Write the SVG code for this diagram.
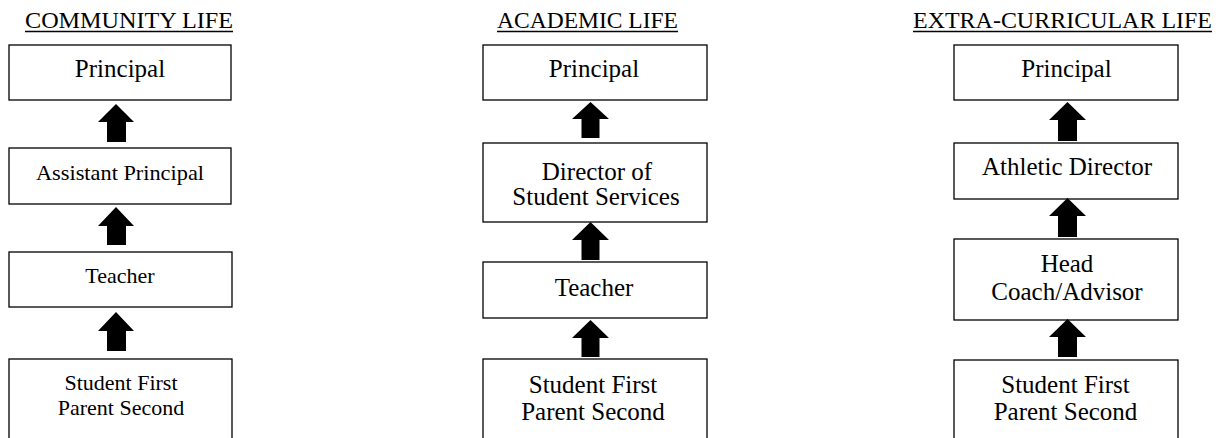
<svg xmlns="http://www.w3.org/2000/svg" width="1222" height="438" viewBox="0 0 1222 438">
<style>
  .box { fill: #ffffff; stroke: #000000; stroke-width: 1.3; }
  .t { font-family: "Liberation Serif", "Times New Roman", serif; font-size: 25px; fill: #000000; text-anchor: middle; }
  .s { font-size: 22px; }
  .title { font-family: "Liberation Serif", "Times New Roman", serif; font-size: 23px; fill: #000000; text-anchor: middle; }
  .ul { stroke: #000000; stroke-width: 1.4; }
  .arrow { fill: #000000; stroke: none; }
</style>
<rect width="1222" height="438" fill="#ffffff"/>

<g id="titles">
  <text class="title" x="129" y="28" textLength="208" lengthAdjust="spacingAndGlyphs">COMMUNITY LIFE</text>
  <line class="ul" x1="25" y1="31.5" x2="233" y2="31.5"/>
  <text class="title" x="587.5" y="28" textLength="181" lengthAdjust="spacingAndGlyphs">ACADEMIC LIFE</text>
  <line class="ul" x1="497" y1="31.5" x2="678" y2="31.5"/>
  <text class="title" x="1062.5" y="28" textLength="299" lengthAdjust="spacingAndGlyphs">EXTRA-CURRICULAR LIFE</text>
  <line class="ul" x1="913" y1="31.5" x2="1212" y2="31.5"/>
</g>

<!-- Column 1: Community Life -->
<g id="c1-principal">
  <rect class="box" x="9" y="45" width="222" height="55"/>
  <text class="t" x="120" y="77">Principal</text>
</g>
<g id="c1-assistant">
  <rect class="box" x="9" y="148" width="222" height="56"/>
  <text class="t s" x="120" y="180" textLength="168" lengthAdjust="spacingAndGlyphs">Assistant Principal</text>
</g>
<g id="c1-teacher">
  <rect class="box" x="9" y="252" width="223" height="55"/>
  <text class="t s" x="120" y="283">Teacher</text>
</g>
<g id="c1-student">
  <rect class="box" x="9" y="359" width="223" height="90"/>
  <text class="t s" x="121" y="390">Student First</text>
  <text class="t s" x="121" y="415">Parent Second</text>
</g>

<!-- Column 2: Academic Life -->
<g id="c2-principal">
  <rect class="box" x="483" y="45" width="224" height="55"/>
  <text class="t" x="594" y="77">Principal</text>
</g>
<g id="c2-director">
  <rect class="box" x="483" y="143" width="224" height="79"/>
  <text class="t" x="597" y="180">Director of</text>
  <text class="t" x="596" y="205">Student Services</text>
</g>
<g id="c2-teacher">
  <rect class="box" x="483" y="262" width="224" height="56"/>
  <text class="t" x="594" y="296">Teacher</text>
</g>
<g id="c2-student">
  <rect class="box" x="483" y="359" width="224" height="90"/>
  <text class="t" x="593" y="393">Student First</text>
  <text class="t" x="593" y="420">Parent Second</text>
</g>

<!-- Column 3: Extra-Curricular Life -->
<g id="c3-principal">
  <rect class="box" x="954" y="45" width="224" height="55"/>
  <text class="t" x="1066.5" y="77">Principal</text>
</g>
<g id="c3-athletic">
  <rect class="box" x="954" y="143" width="224" height="56"/>
  <text class="t" x="1067" y="175">Athletic Director</text>
</g>
<g id="c3-head">
  <rect class="box" x="954" y="239" width="224" height="81"/>
  <text class="t" x="1067" y="272">Head</text>
  <text class="t" x="1067" y="300">Coach/Advisor</text>
</g>
<g id="c3-student">
  <rect class="box" x="954" y="360" width="224" height="90"/>
  <text class="t" x="1065.5" y="393">Student First</text>
  <text class="t" x="1065.5" y="420">Parent Second</text>
</g>

<g id="connectors">
  <!-- column 1 -->
  <polygon class="arrow" points="116,104 134,122 126,122 126,142 107,142 107,122 98,122"/>
  <polygon class="arrow" points="116,207 134,226 126,226 126,245 107,245 107,226 98,226"/>
  <polygon class="arrow" points="116,312 134,331 126,331 126,351 107,351 107,331 98,331"/>
  <!-- column 2 -->
  <polygon class="arrow" points="590.5,102 609,119 599.5,119 599.5,138 581.5,138 581.5,119 572,119"/>
  <polygon class="arrow" points="590.5,222 609,240 599.5,240 599.5,260 581.5,260 581.5,240 572,240"/>
  <polygon class="arrow" points="590.5,320 609,338 599.5,338 599.5,357 581.5,357 581.5,338 572,338"/>
  <!-- column 3 -->
  <polygon class="arrow" points="1067.5,102 1086,120 1077,120 1077,141 1058,141 1058,120 1049,120"/>
  <polygon class="arrow" points="1067.5,198 1086,216 1077,216 1077,237 1058,237 1058,216 1049,216"/>
  <polygon class="arrow" points="1067.5,319 1086,337 1077,337 1077,357 1058,357 1058,337 1049,337"/>
</g>
</svg>
